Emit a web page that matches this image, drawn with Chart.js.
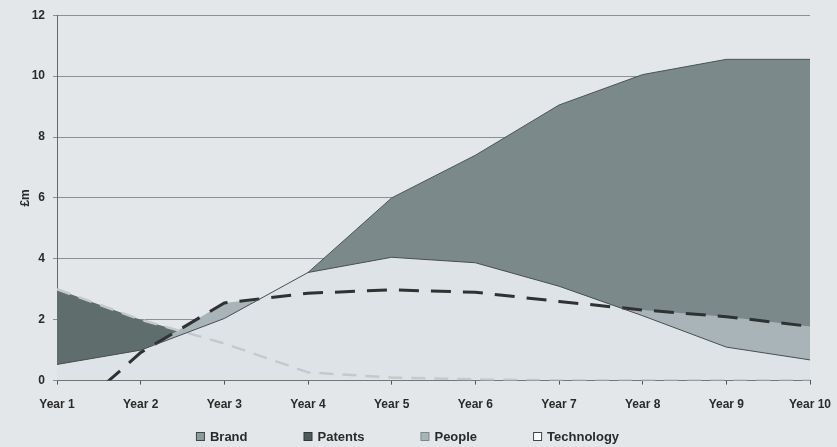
<!DOCTYPE html>
<html>
<head>
<meta charset="utf-8">
<script src="https://cdn.jsdelivr.net/npm/chart.js@4/dist/chart.umd.min.js"></script>
<style>
  html, body { margin: 0; padding: 0; background: #e4e7e9; }
  #wrap { width: 837px; height: 447px; position: relative; }
</style>
</head>
<body>
<div id="wrap"><canvas id="c" width="837" height="447"></canvas></div>
<script>
const categories = ['Year 1','Year 2','Year 3','Year 4','Year 5','Year 6','Year 7','Year 8','Year 9','Year 10'];
const brand      = [null, null, null, 3.55, 6.0, 7.4, 9.05, 10.05, 10.55, 10.55];
const patents    = [3.0, 2.0, 1.22, 0.27, 0.1, 0.04, 0, 0, 0, 0];
const people     = [-1.5, 0.92, 2.55, 2.87, 2.98, 2.9, 2.6, 2.32, 2.1, 1.78];
const technology = [0.53, 1.0, 2.04, 3.55, 4.05, 3.87, 3.1, 2.13, 1.1, 0.68];
const yTicks     = [0, 2, 4, 6, 8, 10, 12];

const FONT = "'Liberation Sans', Arial, sans-serif";

// legend swatch appearance (fill, stroke) per series
const swatches = {
  'Brand':      ['#8d9a9c', '#3f4647'],
  'Patents':    ['#4f5b5a', '#2f3636'],
  'People':     ['#a9b4b8', '#7c8789'],
  'Technology': ['#ffffff', '#3f4647']
};

const bottomLegend = {
  id: 'bottomLegend',
  afterDraw(chart) {
    const ctx = chart.ctx;
    const box = 8, gapText = 6, gapItem = 56;
    ctx.save();
    ctx.font = 'bold 13px ' + FONT;
    const items = chart.data.datasets.map(ds => ({ text: ds.label, w: box + gapText + ctx.measureText(ds.label).width }));
    const total = items.reduce((s, it) => s + it.w, 0) + gapItem * (items.length - 1);
    let x = chart.width / 2 - 11 - total / 2;
    const y = 437;
    items.forEach(it => {
      const [f, s] = swatches[it.text];
      ctx.fillStyle = f;
      ctx.fillRect(x + 0.5, y - box / 2 - 0.5, box, box);
      ctx.strokeStyle = s;
      ctx.lineWidth = 1;
      ctx.strokeRect(x + 0.5, y - box / 2 - 0.5, box, box);
      ctx.fillStyle = '#2a2a2a';
      ctx.textBaseline = 'middle';
      ctx.textAlign = 'left';
      ctx.fillText(it.text, x + box + gapText, y);
      x += it.w + gapItem;
    });
    ctx.restore();
  }
};

new Chart(document.getElementById('c'), {
  type: 'line',
  data: {
    labels: categories,
    datasets: [
      { label: 'Brand', data: brand, order: 4, fill: 'origin',
        backgroundColor: '#7b898b', borderColor: '#4b5456', borderWidth: 1,
        pointRadius: 0, tension: 0 },
      { label: 'Patents', data: patents, order: 3, fill: 'origin',
        backgroundColor: '#5f6e6c', borderColor: '#c3c9cc', borderWidth: 2.5,
        borderDash: [14, 9], pointRadius: 0, tension: 0 },
      { label: 'People', data: people, order: 2, fill: 'origin',
        backgroundColor: '#a9b4b8', borderColor: '#2e3233', borderWidth: 3,
        borderDash: [20, 12], pointRadius: 0, tension: 0 },
      { label: 'Technology', data: technology, order: 1, fill: 'origin',
        backgroundColor: '#dde3e6', borderColor: '#484e50', borderWidth: 1,
        pointRadius: 0, tension: 0 }
    ]
  },
  plugins: [bottomLegend],
  options: {
    responsive: false,
    animation: false,
    layout: { padding: { top: 7, right: 27, left: 18, bottom: 22 } },
    plugins: {
      filler: { drawTime: 'beforeDatasetsDraw' },
      tooltip: { enabled: false },
      legend: { display: false }
    },
    scales: {
      x: {
        type: 'category',
        offset: false,
        z: 1,
        afterFit: (axis) => { axis.paddingLeft = 0; axis.paddingRight = 0; },
        grid: { display: true, drawOnChartArea: false, drawTicks: true, tickLength: 4, color: '#555' },
        border: { display: true, color: '#555', width: 1 },
        ticks: {
          color: '#2a2a2a', padding: 13, maxRotation: 0, autoSkip: false,
          font: { family: FONT, size: 12, weight: 'bold' }
        }
      },
      y: {
        min: 0, max: 12,
        afterBuildTicks: (axis) => { axis.ticks = yTicks.map(v => ({ value: v })); },
        afterFit: (axis) => { axis.width = 39; },
        grid: { color: '#8b9092', lineWidth: 1, tickLength: 4, drawTicks: true },
        border: { display: true, color: '#666', width: 1 },
        title: {
          display: true, text: '£m', color: '#2a2a2a', padding: { top: 0, bottom: 0 },
          font: { family: FONT, size: 12, weight: 'bold' }
        },
        ticks: {
          color: '#2a2a2a', padding: 8,
          font: { family: FONT, size: 12, weight: 'bold' }
        }
      }
    }
  }
});
</script>
</body>
</html>
